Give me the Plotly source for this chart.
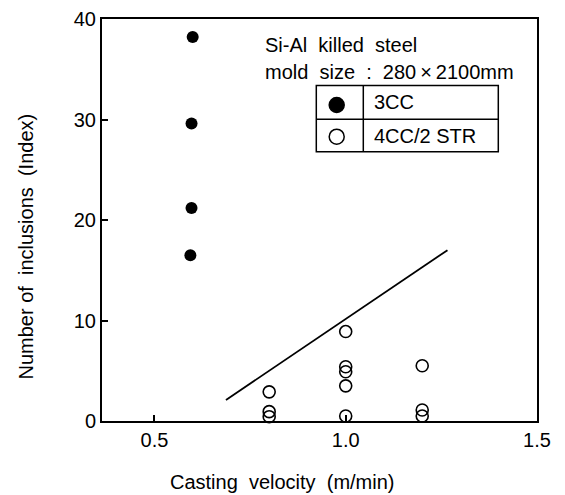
import plotly.graph_objects as go

# ---- data ----
x_3cc = [0.600, 0.597, 0.597, 0.594]
y_3cc = [38.2, 29.6, 21.2, 16.5]

x_4cc = [0.8, 0.8, 0.8, 1.0, 1.0, 1.0, 1.0, 1.0, 1.2, 1.2, 1.2]
y_4cc = [2.9, 0.93, 0.43, 8.9, 5.4, 4.9, 3.5, 0.5, 5.5, 1.1, 0.5]

trend_x = [0.687, 1.266]
trend_y = [2.09, 17.0]

x_ticks = [0.5, 1.0, 1.5]
x_ticktext = ["0.5", "1.0", "1.5"]
y_ticks = [0, 10, 20, 30, 40]
y_ticktext = ["0", "10", "20", "30", "40"]

series_names = ["3CC", "4CC/2\u00a0STR"]

FONT = "Liberation Sans, Arial, sans-serif"
PAGE = 8  # default body margin of the html page
W, H = 565 - PAGE, 495 - PAGE
L, R, T, B = 102 - PAGE, 28, 19 - PAGE, 74
PW, PH = W - L - R, H - T - B


def px(xp):
    # xp: pixel in the 565x495 window
    return (xp - PAGE - L) / PW


def py(yp):
    return (H - B - (yp - PAGE)) / PH


fig = go.Figure()
fig.add_trace(go.Scatter(x=trend_x, y=trend_y, mode="lines",
                         line=dict(color="black", width=1.8),
                         showlegend=False, hoverinfo="skip"))
fig.add_trace(go.Scatter(x=x_3cc, y=y_3cc, mode="markers", name=series_names[0],
                         marker=dict(symbol="circle", size=12, color="black"),
                         showlegend=False))
fig.add_trace(go.Scatter(x=x_4cc, y=y_4cc, mode="markers", name=series_names[1],
                         marker=dict(symbol="circle-open", size=12, color="black",
                                     line=dict(width=1.6)),
                         showlegend=False, cliponaxis=False))

axis_common = dict(showline=True, linecolor="black", linewidth=2, mirror=True,
                   ticks="inside", ticklen=6, tickwidth=1.5, tickcolor="black",
                   showgrid=False, zeroline=False, automargin=False,
                   tickfont=dict(family=FONT, size=20, color="black"))

fig.update_xaxes(range=[0.363, 1.5], tickvals=x_ticks, ticktext=x_ticktext, **axis_common)
fig.update_yaxes(range=[0, 40], tickvals=y_ticks, ticktext=y_ticktext, **axis_common)

shapes = []
# legend table
lx0, lx1, ldiv = px(316.3), px(498.3), px(363.3)
ly0, lymid, ly1 = py(85.5), py(119.3), py(151.7)
line_style = dict(color="black", width=1.5)
shapes.append(dict(type="rect", xref="paper", yref="paper", x0=lx0, x1=lx1, y0=ly1, y1=ly0,
                   line=line_style, fillcolor="rgba(0,0,0,0)"))
shapes.append(dict(type="line", xref="paper", yref="paper", x0=lx0, x1=lx1, y0=lymid, y1=lymid,
                   line=line_style))
shapes.append(dict(type="line", xref="paper", yref="paper", x0=ldiv, x1=ldiv, y0=ly1, y1=ly0,
                   line=line_style))
# legend symbols
mx = px(336.7)
for yc, fill in [(py(105), "black"), (py(136.7), "white")]:
    shapes.append(dict(type="circle", xref="paper", yref="paper",
                       xsizemode="pixel", ysizemode="pixel", xanchor=mx, yanchor=yc,
                       x0=-7.5, x1=7.5, y0=-7.5, y1=7.5,
                       fillcolor=fill, line=dict(color="black", width=1.5)))

annotations = [
    dict(text="3CC", x=px(371.7), y=py(102.4), xanchor="left", yanchor="middle"),
    dict(text=series_names[1], x=px(371.7), y=py(135.5), xanchor="left", yanchor="middle"),
    dict(text="Si-Al\u00a0\u00a0killed\u00a0\u00a0steel", x=px(263.3), y=py(45),
         xanchor="left", yanchor="middle"),
    dict(text="mold\u00a0\u00a0size\u00a0\u00a0:\u00a0\u00a0280\u2009\u00d7\u20092100mm",
         x=px(263.3), y=py(71.7), xanchor="left", yanchor="middle"),
    dict(text="Casting\u00a0\u00a0velocity\u00a0\u00a0(m/min)", x=px(282), y=py(482),
         xanchor="center", yanchor="middle", font=dict(family=FONT, size=20, color="black")),
    dict(text="Number\u00a0of\u00a0\u00a0inclusions\u00a0\u00a0(Index)", x=px(25), y=py(246.5),
         xanchor="center", yanchor="middle", textangle=-90,
         font=dict(family=FONT, size=20, color="black")),
]
for a in annotations:
    a.setdefault("xref", "paper")
    a.setdefault("yref", "paper")
    a.setdefault("showarrow", False)
    a.setdefault("font", dict(family=FONT, size=20, color="black"))

fig.update_layout(width=W, height=H,
                  margin=dict(l=L, r=R, t=T, b=B, autoexpand=False),
                  paper_bgcolor="white", plot_bgcolor="white",
                  showlegend=False, shapes=shapes, annotations=annotations,
                  font=dict(family=FONT, color="black"))

fig.write_html("out.html")
